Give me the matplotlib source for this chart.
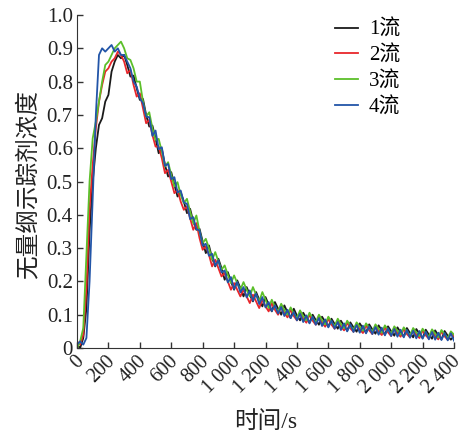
import matplotlib
matplotlib.use("Agg")
import matplotlib.pyplot as plt
from matplotlib.ticker import FixedLocator, FuncFormatter
from matplotlib.transforms import ScaledTranslation

SERIF = "Liberation Serif"
MIXED = ["Liberation Serif", "Noto Sans CJK SC"]
plt.rcParams['font.family'] = SERIF

# ---------------------------------------------------------
# Data (read off the reference, sampled every 20 s)
# ---------------------------------------------------------
time_s = list(range(0, 2420, 20))

flow1 = [0.01, 0.00, 0.03, 0.12, 0.35, 0.50, 0.60, 0.67, 0.69, 0.74,
         0.76, 0.83, 0.86, 0.88, 0.87, 0.88, 0.85, 0.815, 0.818, 0.78,
         0.745, 0.748, 0.70, 0.665, 0.668, 0.63, 0.585, 0.598, 0.55, 0.515,
         0.528, 0.49, 0.455, 0.468, 0.44, 0.405, 0.418, 0.38, 0.355, 0.358,
         0.32, 0.285, 0.308, 0.27, 0.245, 0.268, 0.24, 0.205, 0.228, 0.20,
         0.175, 0.203, 0.18, 0.155, 0.183, 0.16, 0.14, 0.168, 0.145, 0.125,
         0.153, 0.13, 0.11, 0.138, 0.118, 0.10, 0.128, 0.107, 0.09, 0.118,
         0.097, 0.083, 0.106, 0.09, 0.076, 0.10, 0.084, 0.07, 0.094, 0.078,
         0.064, 0.088, 0.072, 0.058, 0.082, 0.066, 0.052, 0.077, 0.062, 0.049,
         0.074, 0.059, 0.046, 0.071, 0.056, 0.043, 0.068, 0.053, 0.04, 0.065,
         0.05, 0.037, 0.062, 0.047, 0.034, 0.06, 0.045, 0.032, 0.057, 0.043,
         0.03, 0.055, 0.04, 0.028, 0.053, 0.038, 0.026, 0.051, 0.037, 0.025,
         0.036]

flow2 = [0.02, 0.01, 0.04, 0.18, 0.42, 0.55, 0.66, 0.74, 0.79, 0.83,
         0.84, 0.86, 0.87, 0.89, 0.88, 0.86, 0.825, 0.835, 0.79, 0.755,
         0.765, 0.72, 0.675, 0.685, 0.64, 0.605, 0.605, 0.57, 0.525, 0.535,
         0.50, 0.465, 0.475, 0.44, 0.415, 0.425, 0.39, 0.355, 0.375, 0.33,
         0.295, 0.305, 0.28, 0.245, 0.265, 0.24, 0.215, 0.225, 0.20, 0.175,
         0.195, 0.175, 0.155, 0.175, 0.155, 0.135, 0.16, 0.14, 0.12, 0.145,
         0.125, 0.11, 0.135, 0.115, 0.10, 0.125, 0.105, 0.092, 0.115, 0.096,
         0.083, 0.106, 0.088, 0.076, 0.10, 0.082, 0.07, 0.094, 0.076, 0.064,
         0.088, 0.07, 0.058, 0.082, 0.064, 0.053, 0.076, 0.059, 0.049, 0.072,
         0.056, 0.045, 0.068, 0.053, 0.042, 0.065, 0.05, 0.039, 0.062, 0.047,
         0.036, 0.06, 0.045, 0.034, 0.057, 0.042, 0.032, 0.055, 0.04, 0.03,
         0.053, 0.038, 0.028, 0.051, 0.036, 0.026, 0.05, 0.035, 0.025, 0.045,
         0.035]

flow3 = [0.00, 0.02, 0.06, 0.28, 0.50, 0.63, 0.68, 0.74, 0.80, 0.85,
         0.86, 0.88, 0.90, 0.91, 0.92, 0.90, 0.87, 0.865, 0.84, 0.80,
         0.80, 0.74, 0.695, 0.708, 0.66, 0.625, 0.628, 0.59, 0.545, 0.558,
         0.52, 0.485, 0.498, 0.46, 0.435, 0.448, 0.41, 0.375, 0.398, 0.35,
         0.315, 0.328, 0.30, 0.265, 0.288, 0.26, 0.235, 0.248, 0.22, 0.195,
         0.218, 0.195, 0.175, 0.198, 0.175, 0.155, 0.183, 0.16, 0.14, 0.168,
         0.145, 0.12, 0.145, 0.124, 0.11, 0.133, 0.114, 0.10, 0.122, 0.104,
         0.09, 0.113, 0.096, 0.083, 0.106, 0.09, 0.077, 0.10, 0.084, 0.071,
         0.094, 0.078, 0.066, 0.088, 0.072, 0.06, 0.082, 0.067, 0.055, 0.077,
         0.064, 0.052, 0.074, 0.061, 0.049, 0.071, 0.058, 0.046, 0.068, 0.055,
         0.043, 0.065, 0.052, 0.04, 0.062, 0.05, 0.038, 0.06, 0.047, 0.036,
         0.058, 0.045, 0.034, 0.056, 0.043, 0.032, 0.054, 0.041, 0.03, 0.05,
         0.04]

flow4 = [0.01, 0.02, 0.01, 0.03, 0.20, 0.45, 0.70, 0.88, 0.90, 0.89,
         0.90, 0.91, 0.89, 0.90, 0.88, 0.88, 0.86, 0.84, 0.80, 0.785,
         0.75, 0.735, 0.695, 0.693, 0.637, 0.653, 0.597, 0.603, 0.547, 0.553,
         0.507, 0.513, 0.467, 0.473, 0.437, 0.433, 0.387, 0.393, 0.357, 0.353,
         0.307, 0.313, 0.277, 0.283, 0.247, 0.263, 0.227, 0.233, 0.197, 0.213,
         0.177, 0.198, 0.167, 0.183, 0.152, 0.173, 0.142, 0.163, 0.132, 0.153,
         0.122, 0.138, 0.111, 0.128, 0.104, 0.123, 0.096, 0.115, 0.09, 0.108,
         0.083, 0.103, 0.078, 0.098, 0.074, 0.094, 0.07, 0.09, 0.066, 0.086,
         0.062, 0.082, 0.058, 0.078, 0.054, 0.074, 0.05, 0.071, 0.048, 0.069,
         0.046, 0.067, 0.044, 0.065, 0.042, 0.063, 0.04, 0.061, 0.038, 0.059,
         0.036, 0.057, 0.034, 0.055, 0.032, 0.054, 0.031, 0.052, 0.029, 0.051,
         0.028, 0.049, 0.026, 0.048, 0.025, 0.046, 0.024, 0.045, 0.023, 0.044,
         0.022]

series = [flow1, flow2, flow3, flow4]
labels = ["1流", "2流", "3流", "4流"]
colors = ["#1a1a1a", "#e8262b", "#5cbf2a", "#2255a8"]

x_ticks = list(range(0, 2401, 200))
y_ticks = [0, 0.1, 0.2, 0.3, 0.4, 0.5, 0.6, 0.7, 0.8, 0.9, 1.0]

# ---------------------------------------------------------
# Plotting
# ---------------------------------------------------------
fig = plt.figure(figsize=(4.63, 4.36), dpi=100)
ax = fig.add_axes([0.1663, 0.2018, 0.8143, 0.7638])

for ys, lab, col in zip(series, labels, colors):
    ax.plot(time_s, ys, color=col, lw=1.3, label=lab)

ax.set_xlim(0, 2400)
ax.set_ylim(0, 1.0)
ax.spines["top"].set_visible(False)
ax.spines["right"].set_visible(False)
ax.spines["left"].set_color("#333333")
ax.spines["bottom"].set_color("#333333")

ax.xaxis.set_major_locator(FixedLocator(x_ticks))
ax.yaxis.set_major_locator(FixedLocator(y_ticks))
ax.xaxis.set_major_formatter(FuncFormatter(
    lambda v, p: f"{int(v):,}".replace(",", " ")))
ax.yaxis.set_major_formatter(FuncFormatter(
    lambda v, p: "0" if v == 0 else f"{v:.1f}"))
ax.tick_params(direction="in", length=4, width=1, colors="#333333",
               labelcolor="#222222", pad=3)
ax.tick_params(axis="y", labelsize=15)
ax.tick_params(axis="x", labelsize=14.5)
plt.setp(ax.get_xticklabels(), rotation=45, ha="right", va="top",
         rotation_mode="anchor", family=SERIF)
plt.setp(ax.get_yticklabels(), family=SERIF)

# nudge rotated x labels a few px left so "2 400" stays inside the canvas
shift = ScaledTranslation(-0.03, 0, fig.dpi_scale_trans)
for lab in ax.get_xticklabels():
    lab.set_transform(lab.get_transform() + shift)

ax.set_xlabel("时间/s", fontsize=17, color="#222222", family=MIXED)
ax.set_ylabel("无量纲示踪剂浓度", fontsize=17, color="#222222", family=MIXED)
ax.xaxis.set_label_coords(0.5, -0.19)
ax.yaxis.set_label_coords(-0.10, 0.49)

# legend: four rows stacked in the upper right, no frame
ax.legend(loc="upper right", bbox_to_anchor=(0.891, 1.023), frameon=False,
          prop={"family": MIXED, "size": 15}, handlelength=1.1,
          handletextpad=0.55, labelspacing=0.28, borderaxespad=0.2)

fig.savefig("out.png", dpi=100)
